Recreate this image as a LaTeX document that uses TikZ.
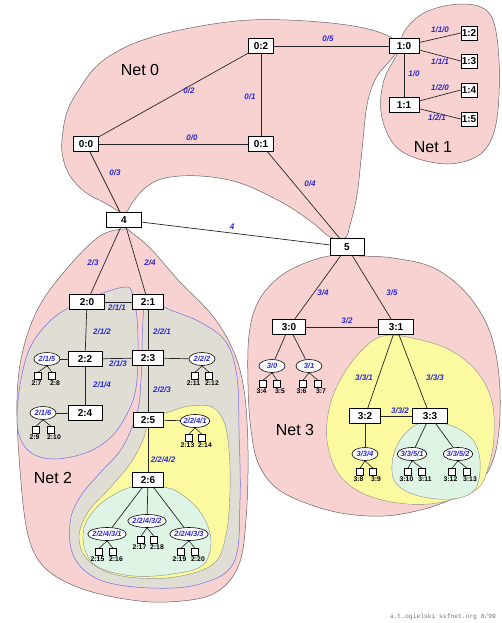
\documentclass[tikz,border=0pt]{standalone}
\usepackage{fontspec}
\setsansfont{Liberation Sans}
\setmonofont{Liberation Mono}
\usetikzlibrary{shapes.geometric}
\definecolor{netpink}{RGB}{248,210,208}
\definecolor{subgray}{RGB}{224,222,212}
\definecolor{subyellow}{RGB}{252,250,160}
\definecolor{subgreen}{RGB}{222,244,228}
\definecolor{lblblue}{RGB}{40,40,210}
\definecolor{rimblue}{RGB}{110,110,230}
\tikzset{
  netzone/.style={draw=black!60, line width=0.5pt, fill=netpink},
  grayzone/.style={draw=rimblue, line width=0.5pt, fill=subgray},
  yellowzone/.style={draw=black!45, line width=0.4pt, fill=subyellow},
  greenzone/.style={draw=black!45, line width=0.4pt, fill=subgreen},
  rtr/.style={draw, fill=white, line width=0.6pt, font=\sffamily\bfseries\fontsize{10}{12}\selectfont,
    minimum width=31pt, minimum height=15pt, inner sep=1pt},
  lan/.style={ellipse, draw, fill=white, line width=0.6pt, text=lblblue,
    font=\sffamily\bfseries\itshape\fontsize{7.5}{9}\selectfont,
    inner xsep=-1pt, inner ysep=0pt, minimum width=26pt, minimum height=13pt},
  host/.style={draw, fill=white, line width=0.5pt, minimum size=7pt, inner sep=0pt,
    label distance=1.5pt},
  hlbl/.style={font=\sffamily\bfseries\fontsize{6.8}{8}\selectfont, inner sep=0.5pt},
  lh/.style={host, label={[hlbl, xshift=-1.5pt]below:{#1}}},
  rh/.style={host, label={[hlbl, xshift=3pt]below:{#1}}},
  lbl/.style={font=\sffamily\bfseries\itshape\fontsize{8}{9}\selectfont, text=lblblue, inner sep=0pt},
  netlbl/.style={font=\sffamily\fontsize{16}{18}\selectfont},
  link/.style={line width=0.7pt, black!85}
}
\begin{document}
\begin{tikzpicture}[x=1pt,y=-1pt]
\useasboundingbox (0,0) rectangle (502,623);
% nets
\draw[netzone] plot[smooth cycle, tension=0.6] coordinates {(124,213) (105,203) (85,192) (70,176) (63,158) (62,140)
  (67,112) (80,88) (100,63) (135,43) (185,29) (250,20) (320,22) (372,30) (400,44) (392,58) (376,78) (367,105)
  (362,150) (357,195) (350,225) (345,238) (330,237) (313,223) (283,203) (240,183) (200,176) (165,178) (145,188) (132,203)};
\draw[netzone] plot[smooth cycle, tension=0.6] coordinates {(398,52) (404,32) (422,14) (450,5) (478,6) (493,20)
  (499,60) (498,110) (491,140) (476,157) (447,164) (413,157) (392,142) (381,112) (384,80)};
\draw[netzone] plot[smooth cycle, tension=0.6] coordinates {(124,229) (100,236) (70,265) (40,305) (23,350) (17,400)
  (20,470) (28,535) (45,568) (80,588) (125,599) (168,602) (213,594) (238,567) (246,520) (248,450) (244,390)
  (233,350) (212,315) (180,282) (150,248) (132,233)};
\draw[netzone] plot[smooth cycle, tension=0.6] coordinates {(335,255) (305,263) (278,278) (258,302) (249,335)
  (248,385) (251,430) (259,465) (279,490) (317,507) (355,515) (395,515) (440,504) (478,484) (496,450) (500,390)
  (491,335) (468,295) (434,268) (393,258) (360,256)};
% subnets
\draw[grayzone] plot[smooth cycle, tension=0.6] coordinates {(127,287) (133,297) (137,318) (138,352) (136,388)
  (128,412) (112,436) (88,452) (55,459) (30,452) (18,430) (19,392) (29,350) (48,323) (70,307) (100,294)};
\draw[grayzone] plot[smooth cycle, tension=0.6] coordinates {(147,298) (168,309) (200,322) (226,342) (237,377)
  (239,430) (240,500) (234,562) (200,584) (150,588) (100,580) (74,557) (70,523) (80,497) (100,473) (122,448)
  (137,413) (141,380) (143,320)};
\draw[yellowzone] plot[smooth cycle, tension=0.6] coordinates {(150,420) (172,411) (190,406) (212,407) (224,422)
  (229,450) (230,490) (226,535) (212,565) (167,578) (117,575) (88,560) (79,537) (88,512) (108,490) (130,464) (143,440)};
\draw[greenzone] plot[smooth cycle, tension=0.6] coordinates {(133,487) (115,494) (96,508) (84,528) (85,550)
  (98,567) (133,576) (173,574) (203,565) (211,540) (201,513) (181,494) (163,487)};
\draw[yellowzone] plot[smooth cycle, tension=0.6] coordinates {(383,336) (412,338) (450,350) (478,373) (492,402)
  (494,435) (489,465) (476,490) (437,503) (398,503) (362,493) (338,473) (327,440) (330,405) (343,375) (362,350)};
\draw[greenzone] plot[smooth cycle, tension=0.6] coordinates {(420,423) (403,436) (393,457) (394,480) (410,493)
  (437,499) (463,497) (477,486) (480,460) (473,440) (457,428) (440,423)};
% net 0 and net 1
\node[rtr, minimum width=25pt] (n00) at (86,144) {0:0};
\node[rtr, minimum width=25pt] (n02) at (261,46) {0:2};
\node[rtr, minimum width=25pt] (n01) at (261,144) {0:1};
\node[rtr, minimum width=30pt] (n10) at (404,46) {1:0};
\node[rtr, minimum width=30pt] (n11) at (404,105) {1:1};
\node[rtr, minimum width=16pt, minimum height=14pt, inner sep=0pt] (n12) at (469,33) {1:2};
\node[rtr, minimum width=16pt, minimum height=14pt, inner sep=0pt] (n13) at (469,61) {1:3};
\node[rtr, minimum width=16pt, minimum height=14pt, inner sep=0pt] (n14) at (469,90) {1:4};
\node[rtr, minimum width=16pt, minimum height=14pt, inner sep=0pt] (n15) at (469,119) {1:5};
\node[rtr, minimum width=35pt] (n4) at (124,220) {4};
\node[rtr, minimum width=34pt, minimum height=17pt] (n5) at (347,247) {5};
% net 2
\node[rtr, minimum width=35pt] (n20) at (87,302) {2:0};
\node[rtr] (n21) at (148,302) {2:1};
\node[rtr, minimum width=34pt] (n22) at (85,359) {2:2};
\node[rtr] (n23) at (148,358) {2:3};
\node[rtr, minimum width=34pt] (n24) at (85,413) {2:4};
\node[rtr, minimum width=30pt] (n25) at (148,420) {2:5};
\node[rtr] (n26) at (148,480) {2:6};
\node[lan] (e215) at (47,359) {2/1/5};
\node[lan] (e216) at (43,413) {2/1/6};
\node[lan] (e222) at (202,359) {2/2/2};
\node[lan] (e2241) at (195,421) {2/2/4/1};
\node[lan] (e22431) at (107,534) {2/2/4/3/1};
\node[lan] (e22432) at (147,521) {2/2/4/3/2};
\node[lan] (e22433) at (189,534) {2/2/4/3/3};
\node[lh={2:7}] (h27) at (38,376) {};
\node[rh={2:8}] (h28) at (52,376) {};
\node[lh={2:9}] (h29) at (36,430) {};
\node[rh={2:10}] (h210) at (51,430) {};
\node[lh={2:11}] (h211) at (195,376) {};
\node[rh={2:12}] (h212) at (209,376) {};
\node[lh={2:13}] (h213) at (189,438) {};
\node[rh={2:14}] (h214) at (202,438) {};
\node[lh={2:15}] (h215) at (99,552) {};
\node[rh={2:16}] (h216) at (113,552) {};
\node[lh={2:17}] (h217) at (141,540) {};
\node[rh={2:18}] (h218) at (154,540) {};
\node[lh={2:19}] (h219) at (181,552) {};
\node[rh={2:20}] (h220) at (195,552) {};
% net 3
\node[rtr, minimum width=33pt] (n30) at (289,327) {3:0};
\node[rtr, minimum width=35pt] (n31) at (396,327) {3:1};
\node[rtr] (n32) at (365,416) {3:2};
\node[rtr, minimum width=35pt] (n33) at (430,416) {3:3};
\node[lan] (e30) at (272,366) {3/0};
\node[lan] (e31) at (309,366) {3/1};
\node[lan] (e334) at (365,454) {3/3/4};
\node[lan] (e3351) at (412,454) {3/3/5/1};
\node[lan] (e3352) at (458,454) {3/3/5/2};
\node[lh={3:4}] (h34) at (263,384) {};
\node[rh={3:5}] (h35) at (277,384) {};
\node[lh={3:6}] (h36) at (303,384) {};
\node[rh={3:7}] (h37) at (318,384) {};
\node[lh={3:8}] (h38) at (360,472) {};
\node[rh={3:9}] (h39) at (373,472) {};
\node[lh={3:10}] (h310) at (408,472) {};
\node[rh={3:11}] (h311) at (422,472) {};
\node[lh={3:12}] (h312) at (452,472) {};
\node[rh={3:13}] (h313) at (467,472) {};
% links
\draw[link] (n00) -- (n02);
\draw[link] (n00) -- (n01);
\draw[link] (n02) -- (n01);
\draw[link] (n02) -- (n10);
\draw[link] (n01) -- (n5);
\draw[link] (n00) -- (n4);
\draw[link] (n4) -- (n5);
\draw[link] (n10) -- (n11);
\draw[link] (n10) -- (n12.west);
\draw[link] (n10) -- (n13.west);
\draw[link] (n11) -- (n14.west);
\draw[link] (n11) -- (n15.west);
\draw[link] (n4) -- (n20);
\draw[link] (n4) -- (n21);
\draw[link] (n20) -- (n21);
\draw[link] (n20) -- (n22);
\draw[link] (n21) -- (n23);
\draw[link] (n22) -- (n23);
\draw[link] (n22) -- (n24);
\draw[link] (n22) -- (e215);
\draw[link] (n24) -- (e216);
\draw[link] (n23) -- (e222);
\draw[link] (n23) -- (n25);
\draw[link] (n25) -- (e2241);
\draw[link] (n25) -- (n26);
\draw[link] (n26) -- (e22431);
\draw[link] (n26) -- (e22432);
\draw[link] (n26) -- (e22433);
\draw[link] (n5) -- (n30);
\draw[link] (n5) -- (n31);
\draw[link] (n30) -- (n31);
\draw[link] (n30) -- (e30);
\draw[link] (n30) -- (e31);
\draw[link] (n31) -- (n32);
\draw[link] (n31) -- (n33);
\draw[link] (n32) -- (n33);
\draw[link] (n32) -- (e334);
\draw[link] (n33) -- (e3351);
\draw[link] (n33) -- (e3352);
\foreach \e/\a/\b in {e215/h27/h28, e216/h29/h210, e222/h211/h212, e2241/h213/h214,
  e22431/h215/h216, e22432/h217/h218, e22433/h219/h220, e30/h34/h35, e31/h36/h37,
  e334/h38/h39, e3351/h310/h311, e3352/h312/h313}
  \draw[line width=0.5pt] (\a.north) -- (\e.south) -- (\b.north);
% link labels
\node[lbl] (l05) at (328,39) {0/5};
\node[lbl] (l01) at (250,97) {0/1};
\node[lbl] (l02) at (189,91) {0/2};
\node[lbl] (l00) at (192,138) {0/0};
\node[lbl] (l03) at (115,173) {0/3};
\node[lbl] (l04) at (310,184) {0/4};
\node[lbl] (l4) at (232,227) {4};
\node[lbl] (l110) at (440,30) {1/1/0};
\node[lbl] (l111) at (440,62) {1/1/1};
\node[lbl] (l10) at (414,74) {1/0};
\node[lbl] (l120) at (440,88) {1/2/0};
\node[lbl] (l121) at (437,118) {1/2/1};
\node[lbl] (l23) at (93,263) {2/3};
\node[lbl] (l24) at (150,263) {2/4};
\node[lbl] (l211) at (117,308) {2/1/1};
\node[lbl] (l212) at (102,332) {2/1/2};
\node[lbl] (l221) at (162,332) {2/2/1};
\node[lbl] (l213) at (118,364) {2/1/3};
\node[lbl] (l214) at (102,385) {2/1/4};
\node[lbl] (l223) at (162,390) {2/2/3};
\node[lbl] (l2242) at (163,460) {2/2/4/2};
\node[lbl] (l34) at (323,293) {3/4};
\node[lbl] (l35) at (392,293) {3/5};
\node[lbl] (l32) at (347,321) {3/2};
\node[lbl] (l331) at (364,378) {3/3/1};
\node[lbl] (l333) at (435,378) {3/3/3};
\node[lbl] (l332) at (400,411) {3/3/2};
% net names
\node[netlbl] (net0) at (140,70) {Net 0};
\node[netlbl] (net1) at (433,147) {Net 1};
\node[netlbl] (net2) at (53,478) {Net 2};
\node[netlbl] (net3) at (295,430) {Net 3};
\node[font=\ttfamily\fontsize{6.3}{7}\selectfont, text=black!55] (credit) at (443,617) {a.t.ogielski ssfnet.org 8/99};
\end{tikzpicture}
\end{document}
